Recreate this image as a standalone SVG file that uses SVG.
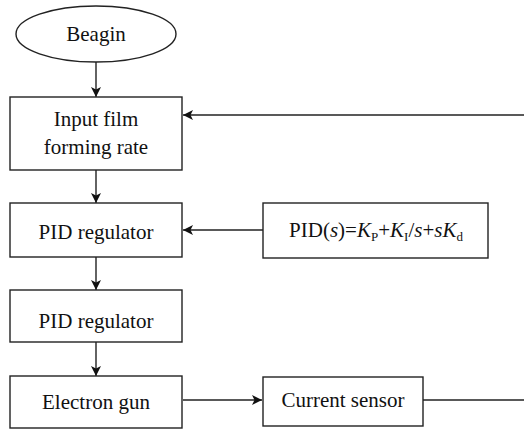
<svg xmlns="http://www.w3.org/2000/svg" width="524" height="429" viewBox="0 0 524 429">
  <style>
    .shape { fill: #fff; stroke: #222; stroke-width: 1.4; }
    .link { fill: none; stroke: #222; stroke-width: 1.4; }
    text { font-family: "Liberation Serif", "Times New Roman", serif; font-size: 21px; fill: #111; text-anchor: middle; }
    .sub { font-size: 13px; }
  </style>
  <defs>
    <marker id="arrow" viewBox="0 0 10 10" refX="10" refY="5" markerWidth="10" markerHeight="10" markerUnits="userSpaceOnUse" orient="auto">
      <path d="M0,0 L10,5 L0,10 L2.5,5 Z" fill="#111"/>
    </marker>
  </defs>
  <rect width="524" height="429" fill="#fff"/>

  <g id="connectors">
    <line class="link" x1="96" y1="62" x2="96" y2="97" marker-end="url(#arrow)"/>
    <line class="link" x1="96" y1="170" x2="96" y2="203" marker-end="url(#arrow)"/>
    <line class="link" x1="96" y1="257" x2="96" y2="290" marker-end="url(#arrow)"/>
    <line class="link" x1="96" y1="342" x2="96" y2="376" marker-end="url(#arrow)"/>
    <line class="link" x1="524" y1="115" x2="183" y2="115" marker-end="url(#arrow)"/>
    <line class="link" x1="263" y1="230" x2="183" y2="230" marker-end="url(#arrow)"/>
    <line class="link" x1="183" y1="400" x2="262" y2="400" marker-end="url(#arrow)"/>
    <line class="link" x1="423" y1="400" x2="524" y2="400"/>
  </g>

  <g id="begin">
    <ellipse class="shape" cx="96" cy="34" rx="80" ry="28"/>
    <text x="96" y="41">Beagin</text>
  </g>

  <g id="input-rate">
    <rect class="shape" x="10" y="97" width="172" height="73"/>
    <text x="96" y="126">Input film</text>
    <text x="96" y="154">forming rate</text>
  </g>

  <g id="pid-regulator-1">
    <rect class="shape" x="10" y="203" width="172" height="54"/>
    <text x="96" y="239">PID regulator</text>
  </g>

  <g id="pid-formula">
    <rect class="shape" x="263" y="203" width="225" height="55"/>
    <text x="376" y="237">PID(<tspan font-style="italic">s</tspan>)=<tspan font-style="italic">K</tspan><tspan class="sub" dy="4">P</tspan><tspan dy="-4">+</tspan><tspan font-style="italic">K</tspan><tspan class="sub" dy="4">I</tspan><tspan dy="-4">/</tspan><tspan font-style="italic">s</tspan>+<tspan font-style="italic">sK</tspan><tspan class="sub" dy="4">d</tspan></text>
  </g>

  <g id="pid-regulator-2">
    <rect class="shape" x="10" y="290" width="172" height="52"/>
    <text x="96" y="328">PID regulator</text>
  </g>

  <g id="electron-gun">
    <rect class="shape" x="10" y="376" width="172" height="52"/>
    <text x="96" y="409">Electron gun</text>
  </g>

  <g id="current-sensor">
    <rect class="shape" x="263" y="377" width="160" height="49"/>
    <text x="343" y="407">Current sensor</text>
  </g>
</svg>
